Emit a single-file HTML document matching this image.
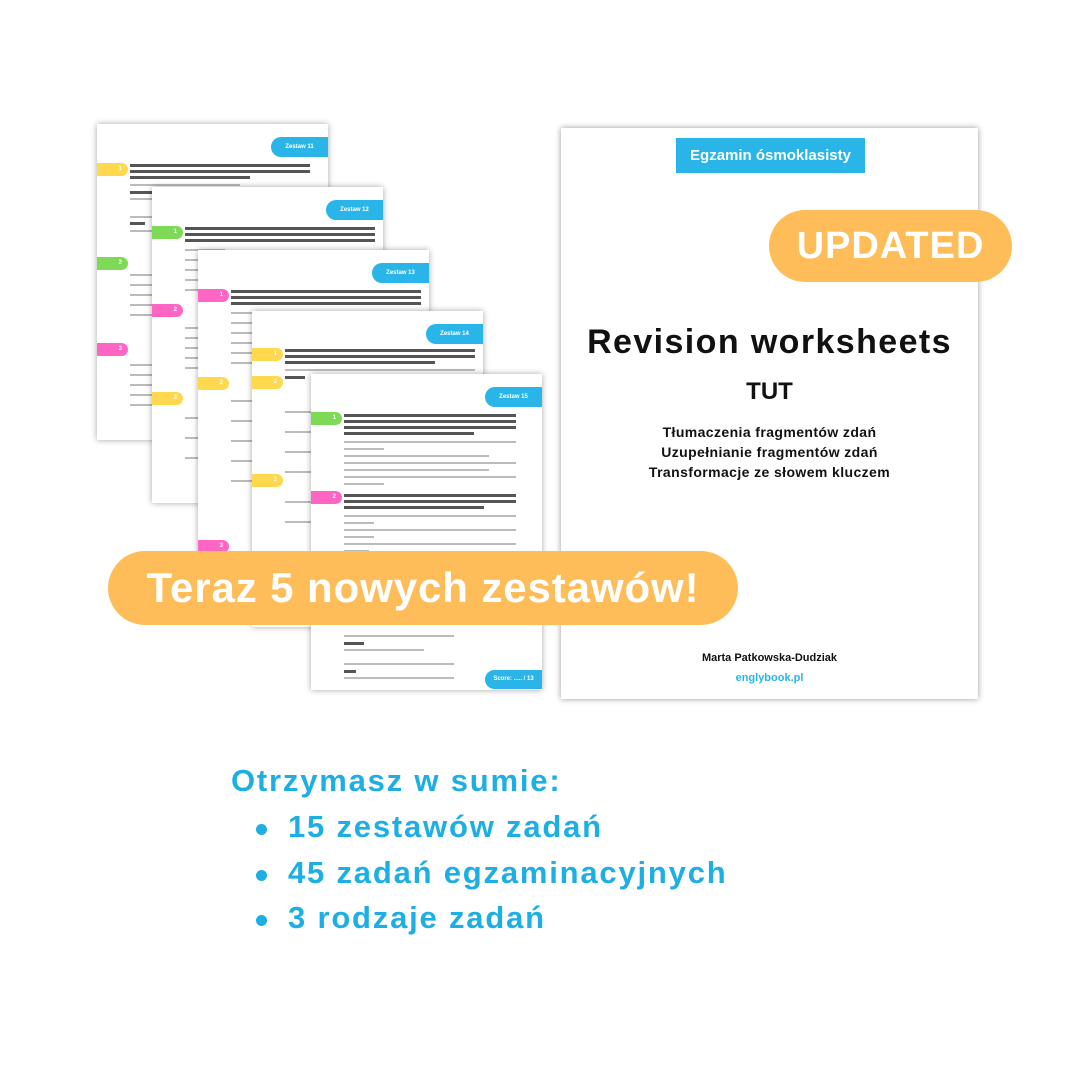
<!DOCTYPE html>
<html><head><meta charset="utf-8"><style>
*{margin:0;padding:0;box-sizing:border-box}
body{width:1080px;height:1080px;background:#fff;position:relative;overflow:hidden;font-family:"Liberation Sans","DejaVu Sans",sans-serif}
.pg{position:absolute;width:231px;height:316px;background:#fff;box-shadow:0 0 6px rgba(0,0,0,.35)}
.hd{position:absolute;right:0;top:13px;width:57px;height:20px;background:#29B5E8;border-radius:10px 0 0 10px;color:#fff;font-size:6px;font-weight:bold;line-height:20px;text-align:center}
.tb{position:absolute;left:0;width:31px;height:13px;border-radius:0 7px 7px 0;color:#fff;font-size:6px;font-weight:bold;line-height:13px;text-align:right;padding-right:6px}
.y{background:#FFD84D}.g{background:#7ED957}.p{background:#FF66C4}
.ln{position:absolute;left:33px;height:3px;background:#555}
.lg{position:absolute;left:33px;height:2px;background:#bbb}
.cv{position:absolute;left:561px;top:128px;width:417px;height:571px;background:#fff;box-shadow:0 0 6px rgba(0,0,0,.4);text-align:center;color:#111}
.pill{position:absolute;background:#FFBD59;color:#fff;font-weight:bold;border-radius:40px;text-align:center}
.list{position:absolute;left:231px;color:#1DAEE4;font-weight:bold;font-size:31px;letter-spacing:1.8px;white-space:nowrap}
.dot{position:absolute;left:256px;width:11px;height:11px;border-radius:50%;background:#1DAEE4}
</style></head><body>

<div class="pg" style="left:97px;top:124px">
<div class="hd">Zestaw 11</div>
<div class="tb y" style="top:39px">1</div><div class="tb g" style="top:133px">2</div><div class="tb p" style="top:219px">3</div>
<div class="ln" style="top:40px;width:180px"></div><div class="ln" style="top:46px;width:180px"></div><div class="ln" style="top:52px;width:120px"></div>
<div class="lg" style="top:60px;width:110px"></div><div class="ln" style="top:67px;width:25px"></div><div class="lg" style="top:74px;width:40px"></div>
<div class="lg" style="top:92px;width:40px"></div><div class="ln" style="top:98px;width:15px"></div><div class="lg" style="top:106px;width:40px"></div>
<div class="lg" style="top:150px;width:40px"></div><div class="lg" style="top:160px;width:40px"></div><div class="lg" style="top:170px;width:40px"></div>
<div class="lg" style="top:180px;width:40px"></div><div class="lg" style="top:190px;width:40px"></div><div class="lg" style="top:240px;width:40px"></div>
<div class="lg" style="top:250px;width:40px"></div><div class="lg" style="top:260px;width:40px"></div><div class="lg" style="top:270px;width:40px"></div><div class="lg" style="top:280px;width:40px"></div>
</div>

<div class="pg" style="left:152px;top:187px">
<div class="hd">Zestaw 12</div>
<div class="tb g" style="top:39px">1</div><div class="tb p" style="top:117px">2</div><div class="tb y" style="top:205px">3</div>
<div class="ln" style="top:40px;width:190px"></div><div class="ln" style="top:46px;width:190px"></div><div class="ln" style="top:52px;width:190px"></div>
<div class="lg" style="top:62px;width:40px"></div><div class="lg" style="top:72px;width:40px"></div><div class="lg" style="top:82px;width:40px"></div><div class="lg" style="top:92px;width:40px"></div><div class="lg" style="top:102px;width:40px"></div>
<div class="lg" style="top:140px;width:40px"></div><div class="lg" style="top:150px;width:40px"></div><div class="lg" style="top:160px;width:40px"></div><div class="lg" style="top:170px;width:40px"></div><div class="lg" style="top:180px;width:40px"></div>
<div class="lg" style="top:230px;width:40px"></div><div class="lg" style="top:250px;width:40px"></div><div class="lg" style="top:270px;width:40px"></div>
</div>

<div class="pg" style="left:198px;top:250px">
<div class="hd">Zestaw 13</div>
<div class="tb p" style="top:39px">1</div><div class="tb y" style="top:127px">2</div><div class="tb p" style="top:290px">3</div>
<div class="ln" style="top:40px;width:190px"></div><div class="ln" style="top:46px;width:190px"></div><div class="ln" style="top:52px;width:190px"></div>
<div class="lg" style="top:62px;width:40px"></div><div class="lg" style="top:72px;width:40px"></div><div class="lg" style="top:82px;width:40px"></div><div class="lg" style="top:92px;width:40px"></div><div class="lg" style="top:102px;width:40px"></div><div class="lg" style="top:112px;width:40px"></div>
<div class="lg" style="top:150px;width:40px"></div><div class="lg" style="top:170px;width:40px"></div><div class="lg" style="top:190px;width:40px"></div><div class="lg" style="top:210px;width:40px"></div><div class="lg" style="top:230px;width:40px"></div>
</div>

<div class="pg" style="left:252px;top:311px">
<div class="hd">Zestaw 14</div>
<div class="tb y" style="top:37px">1</div><div class="tb y" style="top:65px">2</div><div class="tb y" style="top:163px">3</div>
<div class="ln" style="top:38px;width:190px"></div><div class="ln" style="top:44px;width:190px"></div><div class="ln" style="top:50px;width:150px"></div>
<div class="lg" style="top:58px;width:190px"></div><div class="ln" style="top:65px;width:20px"></div>
<div class="lg" style="top:100px;width:40px"></div><div class="lg" style="top:120px;width:40px"></div><div class="lg" style="top:140px;width:40px"></div><div class="lg" style="top:160px;width:40px"></div><div class="lg" style="top:190px;width:40px"></div><div class="lg" style="top:210px;width:40px"></div>
</div>

<div class="pg" style="left:311px;top:374px">
<div class="hd">Zestaw 15</div>
<div class="tb g" style="top:38px">1</div><div class="tb p" style="top:117px">2</div>
<div class="ln" style="top:40px;width:172px"></div><div class="ln" style="top:46px;width:172px"></div><div class="ln" style="top:52px;width:172px"></div><div class="ln" style="top:58px;width:130px"></div>
<div class="lg" style="top:67px;width:172px"></div><div class="lg" style="top:74px;width:40px"></div><div class="lg" style="top:81px;width:145px"></div><div class="lg" style="top:88px;width:172px"></div><div class="lg" style="top:95px;width:145px"></div><div class="lg" style="top:102px;width:172px"></div><div class="lg" style="top:109px;width:40px"></div>
<div class="ln" style="top:120px;width:172px"></div><div class="ln" style="top:126px;width:172px"></div><div class="ln" style="top:132px;width:140px"></div>
<div class="lg" style="top:141px;width:172px"></div><div class="lg" style="top:148px;width:30px"></div><div class="lg" style="top:155px;width:172px"></div><div class="lg" style="top:162px;width:30px"></div><div class="lg" style="top:169px;width:172px"></div><div class="lg" style="top:176px;width:25px"></div>
<div class="lg" style="top:261px;width:110px"></div><div class="ln" style="top:268px;width:20px"></div><div class="lg" style="top:275px;width:80px"></div>
<div class="lg" style="top:289px;width:110px"></div><div class="ln" style="top:296px;width:12px"></div><div class="lg" style="top:303px;width:110px"></div>
<div class="hd" style="top:296px;height:19px;line-height:19px">Score: ..... / 13</div>
</div>

<div class="cv">
<div style="position:absolute;left:115px;top:10px;width:189px;height:35px;background:#29B5E8;color:#fff;font-weight:bold;font-size:15px;line-height:35px">Egzamin ósmoklasisty</div>
<div style="position:absolute;left:0;width:417px;top:192px;font-size:34px;font-weight:bold;line-height:44px;letter-spacing:1.4px">Revision worksheets</div>
<div style="position:absolute;left:0;width:417px;top:250px;font-size:24px;font-weight:bold">TUT</div>
<div style="position:absolute;left:0;width:417px;top:294px;font-size:14px;font-weight:bold;line-height:20px;letter-spacing:0.4px">Tłumaczenia fragmentów zdań<br>Uzupełnianie fragmentów zdań<br>Transformacje ze słowem kluczem</div>
<div style="position:absolute;left:0;width:417px;top:524px;font-size:11px;font-weight:bold">Marta Patkowska-Dudziak</div>
<div style="position:absolute;left:0;width:417px;top:544px;font-size:11px;font-weight:bold;color:#29B5E8">englybook.pl</div>
</div>

<div class="pill" style="left:769px;top:210px;width:243px;height:72px;font-size:38px;line-height:72px;letter-spacing:1px">UPDATED</div>
<div class="pill" style="left:108px;top:551px;width:630px;height:74px;font-size:42px;line-height:74px;letter-spacing:0.9px">Teraz 5 nowych zestawów!</div>

<div class="list" style="top:763px">Otrzymasz w sumie:</div>
<div class="dot" style="top:824px"></div><div class="list" style="left:288px;top:809px">15 zestawów zadań</div>
<div class="dot" style="top:870px"></div><div class="list" style="left:288px;top:855px">45 zadań egzaminacyjnych</div>
<div class="dot" style="top:915px"></div><div class="list" style="left:288px;top:900px">3 rodzaje zadań</div>
</body></html>
